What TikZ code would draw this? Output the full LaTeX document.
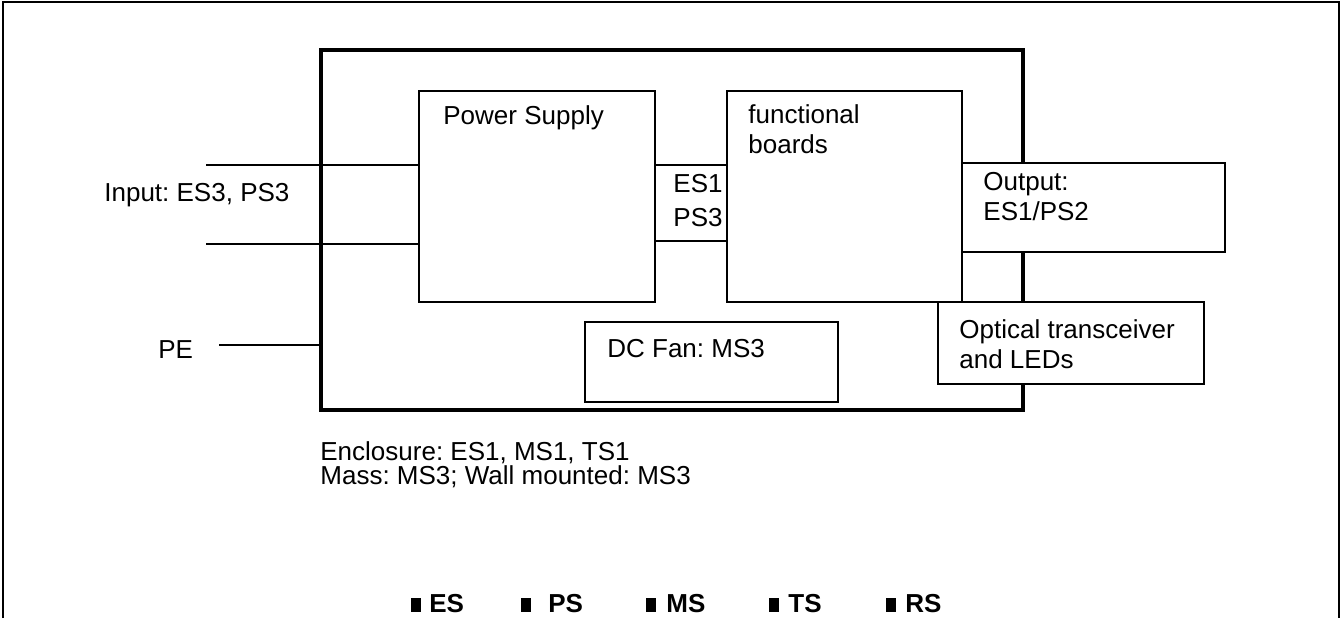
\documentclass[tikz,border=0pt]{standalone}
\usepackage{fontspec}
\setmainfont{Liberation Sans}
\frenchspacing
\usetikzlibrary{calc}

\newcommand{\pxu}{0.5pt}

\tikzset{
  box/.style 2 args={draw, fill=white, line width=0.75pt, inner sep=0pt,
    minimum width={#1*\pxu}, minimum height={#2*\pxu}},
  lbl/.style={inner sep=0pt, anchor=base west, align=left,
    font=\fontsize{13pt}{15pt}\selectfont},
  wire/.style={line width=0.75pt},
  legsq/.style={fill=black, inner sep=0pt, minimum width={10*\pxu}, minimum height={14*\pxu}},
}

\begin{document}
\begin{tikzpicture}[x=0.5pt, y=-0.5pt]
        \useasboundingbox (0,0) rectangle (1343,618);

        % outer frame
        \draw[line width=1.2pt] (3,618) -- (3,2) -- (1339,2) -- (1339,618);

        % enclosure and boards
        \node[box={702}{360}, line width=2pt] (encl) at (672,230) {};
        \node[box={236}{211}] (psu) at (537,196.5) {};
        \node[box={235}{211}] (func) at (844.5,196.5) {};
        \node[box={72}{76}] (link) at (691,203) {};
        \node[box={263}{89}] (out) at (1093.5,207.5) {};
        \node[box={266}{82}] (opt) at (1071,343) {};
        \node[box={253}{80}] (fan) at (711.5,362) {};

        % mains input and PE
        \coordinate (inA) at (206,165);
        \coordinate (inB) at (206,244);
        \coordinate (pe) at (219,345);
        \draw[wire] (inA) -- (inA -| psu.west);
        \draw[wire] (inB) -- (inB -| psu.west);
        \draw[wire] (pe) -- (pe -| encl.west);

        % texts (multi-line ones sit on their last baseline)
        \node[lbl] (inlbl) at (104,201) {Input: ES3, PS3};
        \node[lbl] (pelbl) at (158,358) {PE};
        \node[lbl] (psulbl) at (443,124) {Power Supply};
        \node[lbl] (funclbl) at (748,153) {functional\\boards};
        \node[lbl, font=\fontsize{13pt}{17pt}\selectfont] (linklbl) at (673,226) {ES1\\PS3};
        \node[lbl] (outlbl) at (983,220) {Output:\\ES1/PS2};
        \node[lbl] (optlbl) at (959,368) {Optical transceiver\\and LEDs};
        \node[lbl] (fanlbl) at (607,357) {DC Fan: MS3};
        \node[lbl, font=\fontsize{13pt}{12pt}\selectfont] (encllbl) at (320,484)
          {Enclosure: ES1, MS1, TS1\\Mass: MS3; Wall mounted: MS3};

        % legend
        \foreach \sx/\tx/\nm in {416/429/ES, 526/548/PS, 651/666/MS, 774/788/TS, 891/905/RS}{
          \node[legsq] (sq\nm) at (\sx,605) {};
          \node[lbl, font=\fontsize{13pt}{15pt}\selectfont\bfseries] (leg\nm) at (\tx,612) {\nm};
        }
    \end{tikzpicture}
\end{document}
